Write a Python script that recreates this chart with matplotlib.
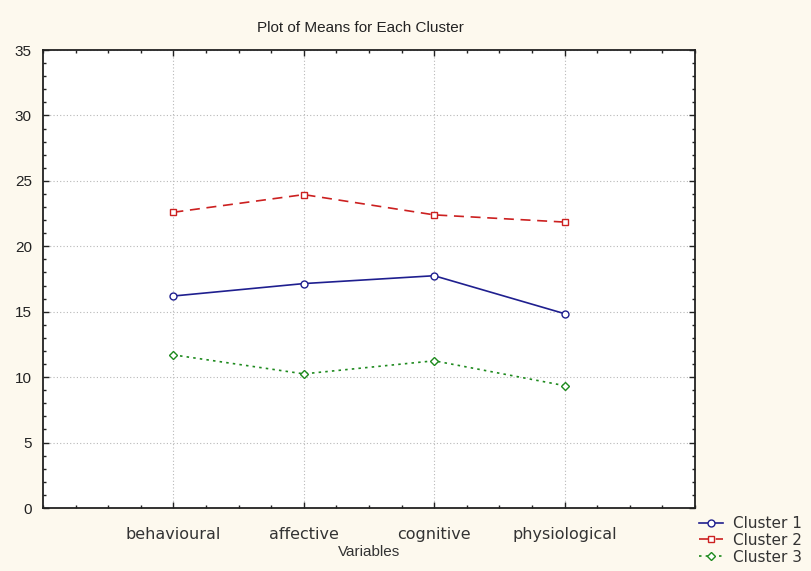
import matplotlib
matplotlib.use("Agg")
import matplotlib.pyplot as plt
from matplotlib.ticker import MultipleLocator

categories = ["behavioural", "affective", "cognitive", "physiological"]
cluster1 = [16.2, 17.15, 17.75, 14.85]
cluster2 = [22.6, 23.95, 22.4, 21.85]
cluster3 = [11.7, 10.25, 11.25, 9.35]
series_names = ["Cluster 1", "Cluster 2", "Cluster 3"]
y_ticks = [0, 5, 10, 15, 20, 25, 30, 35]

bg = "#fdf9ee"
fig = plt.figure(figsize=(8.12, 5.71), dpi=100, facecolor=bg)
ax = fig.add_axes([43/812, 1-508/571, (695-43)/812, (508-50)/571])
ax.set_facecolor("white")

x = [i + 1 for i in range(len(categories))]
l1, = ax.plot(x, cluster1, color="#1f1f8f", lw=1.2, ls="-", marker="o", ms=5,
              mfc="white", mec="#1f1f8f", mew=1.0)
l2, = ax.plot(x, cluster2, color="#cc2020", lw=1.2, ls=(0, (6, 4)), marker="s", ms=5,
              mfc="white", mec="#cc2020", mew=1.0)
l3, = ax.plot(x, cluster3, color="#1e8a1e", lw=1.2, ls=(0, (1.5, 2.5)), marker="D", ms=4.5,
              mfc="white", mec="#1e8a1e", mew=1.0)

ax.set_xlim(0, 5)
ax.set_ylim(0, 35)
ax.set_xticks(x)
ax.set_xticklabels(categories, fontsize=11.5, family="DejaVu Sans", color="#333333")
ax.set_yticks(y_ticks)
ax.set_yticklabels([str(v) for v in y_ticks], fontsize=11, family="Liberation Sans", color="#222222")
ax.xaxis.set_minor_locator(MultipleLocator(0.25))
ax.yaxis.set_minor_locator(MultipleLocator(1))
ax.tick_params(which="both", direction="in", top=True, right=True, color="#222222")
ax.tick_params(which="major", length=4, width=1.0, pad=14)
ax.tick_params(axis="y", which="major", pad=8)
ax.tick_params(which="minor", length=2.5, width=1.0)
ax.grid(True, which="major", color="#b8b8b8", ls=(0, (1, 2)), lw=0.8)
for s in ax.spines.values():
    s.set_linewidth(1.3)
    s.set_color("#222222")

fig.text(360/812, 1-28/571, "Plot of Means for Each Cluster", ha="center", va="center",
         fontsize=11, family=["Liberation Sans Narrow", "Liberation Sans"], color="#222222")
ax.set_xlabel("Variables", fontsize=11, family="Liberation Sans", color="#333333", labelpad=2)

fig.legend([l1, l2, l3], series_names, loc="upper left", bbox_to_anchor=(699/812, 1-516/571),
           frameon=False, handlelength=1.6, handletextpad=0.6, labelspacing=0.12,
           borderaxespad=0, borderpad=0, prop={"family": "DejaVu Sans", "size": 11},
           labelcolor="#333333")

fig.savefig("out.png", dpi=100, facecolor=bg)
